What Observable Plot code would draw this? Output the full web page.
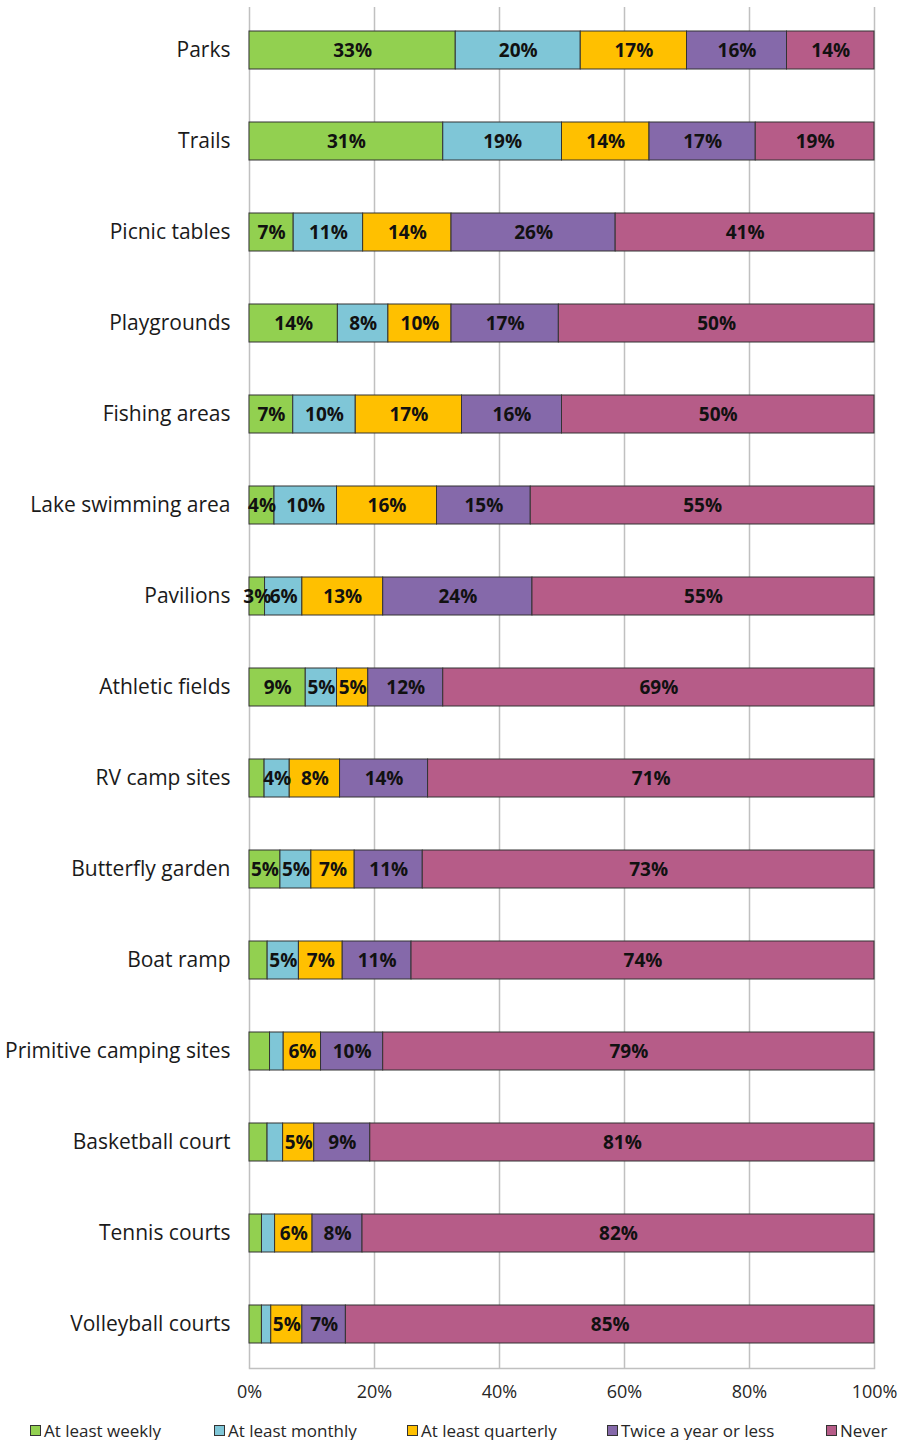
<!DOCTYPE html>
<html>
<head>
<meta charset="utf-8">
<script src="https://cdn.jsdelivr.net/npm/d3@7"></script>
<script src="https://cdn.jsdelivr.net/npm/@observablehq/plot@0.6"></script>
<style>
  html, body { margin: 0; padding: 0; background: #fff; }
  #chart { width: 899px; }
  .legend { display: flex; position: relative; height: 28px; font-family: "Open Sans", sans-serif; font-size: 17px; color: #262626; }
  .legend .item { position: absolute; top: 7px; display: flex; align-items: center; white-space: nowrap; }
  .legend .sw { width: 9px; height: 9px; border: 1px solid #333; margin-right: 3px; }
</style>
</head>
<body>
<div id="chart"></div>
<script>
const categories = ["Parks", "Trails", "Picnic tables", "Playgrounds", "Fishing areas", "Lake swimming area", "Pavilions", "Athletic fields", "RV camp sites", "Butterfly garden", "Boat ramp", "Primitive camping sites", "Basketball court", "Tennis courts", "Volleyball courts"];
const seriesNames = ["At least weekly", "At least monthly", "At least quarterly", "Twice a year or less", "Never"];
const seriesColors = ["#92D050", "#7FC6D7", "#FFC000", "#8569AA", "#B65C88"];

const weekly    = [33, 31, 7, 14, 7, 4, 2.5, 9, 2.4, 5, 2.9, 3.3, 2.9, 2, 2];
const monthly   = [20, 19, 11, 8, 10, 10, 6, 5, 4, 5, 5, 2.2, 2.5, 2.1, 1.5];
const quarterly = [17, 14, 14, 10, 17, 16, 13, 5, 8, 7, 7, 6, 5, 6, 5];
const twice     = [16, 17, 26, 17, 16, 15, 24, 12, 14, 11, 11, 10, 9, 8, 7];
const never     = [14, 19, 41, 50, 50, 55, 55, 69, 71, 73, 74, 79, 81, 82, 85];

const weeklyLabels    = ["33%", "31%", "7%", "14%", "7%", "4%", "3%", "9%", "", "5%", "", "", "", "", ""];
const monthlyLabels   = ["20%", "19%", "11%", "8%", "10%", "10%", "6%", "5%", "4%", "5%", "5%", "", "", "", ""];
const quarterlyLabels = ["17%", "14%", "14%", "10%", "17%", "16%", "13%", "5%", "8%", "7%", "7%", "6%", "5%", "6%", "5%"];
const twiceLabels     = ["16%", "17%", "26%", "17%", "16%", "15%", "24%", "12%", "14%", "11%", "11%", "10%", "9%", "8%", "7%"];
const neverLabels     = ["14%", "19%", "41%", "50%", "50%", "55%", "55%", "69%", "71%", "73%", "74%", "79%", "81%", "82%", "85%"];

const xTicks = [0, 0.2, 0.4, 0.6, 0.8, 1];

const seriesValues = [weekly, monthly, quarterly, twice, never];
const seriesLabels = [weeklyLabels, monthlyLabels, quarterlyLabels, twiceLabels, neverLabels];
const rows = [];
seriesNames.forEach((s, si) => {
  categories.forEach((c, ci) => {
    rows.push({category: c, series: s, value: seriesValues[si][ci], label: seriesLabels[si][ci]});
  });
});

const pct = d => Math.round(d * 100) + "%";

const chart = Plot.plot({
  width: 899,
  height: 1412,
  marginLeft: 249,
  marginRight: 25,
  marginTop: 7,
  marginBottom: 44,
  style: {fontFamily: "'Open Sans', sans-serif", background: "#fff", overflow: "visible"},
  x: {domain: [0, 1], ticks: xTicks, tickFormat: pct, label: null},
  y: {domain: categories, paddingInner: 0.58, paddingOuter: 0.263, label: null},
  color: {domain: seriesNames, range: seriesColors},
  marks: [
    Plot.gridX(xTicks, {stroke: "#c0c0c0", strokeOpacity: 1, strokeWidth: 1.5}),
    Plot.frame({anchor: "bottom", stroke: "#c0c0c0", strokeWidth: 1.5}),
    Plot.axisX({ticks: xTicks, tickSize: 0, tickPadding: 17, fontSize: 18, color: "#262626", tickFormat: pct, label: null}),
    Plot.axisY({tickSize: 0, tickPadding: 19, fontSize: 21, color: "#1a1a1a", label: null}),
    Plot.barX(rows, Plot.stackX({x: "value", y: "category", fill: "series", order: seriesNames, offset: "normalize", stroke: "#333", strokeWidth: 1})),
    Plot.text(rows, Plot.stackX({x: "value", y: "category", z: "series", order: seriesNames, offset: "normalize", text: "label", fontSize: 19, fontWeight: "bold", fill: "#111"}))
  ]
});
document.getElementById("chart").appendChild(chart);

const legend = document.createElement("div");
legend.className = "legend";
const legendX = [30, 214, 407, 607, 826];
seriesNames.forEach((s, i) => {
  const item = document.createElement("div");
  item.className = "item";
  item.style.left = legendX[i] + "px";
  const sw = document.createElement("span");
  sw.className = "sw";
  sw.style.background = seriesColors[i];
  const t = document.createElement("span");
  t.textContent = s;
  item.appendChild(sw);
  item.appendChild(t);
  legend.appendChild(item);
});
document.getElementById("chart").appendChild(legend);
</script>
</body>
</html>
